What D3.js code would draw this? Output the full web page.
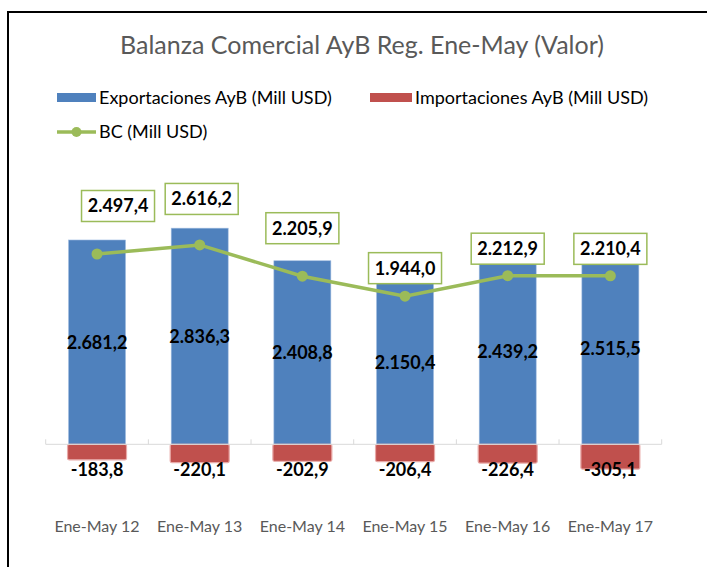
<!DOCTYPE html>
<html>
  <head>
    <meta charset="utf-8">
    <script src="https://d3js.org/d3.v7.min.js"></script>
    <style>
      body {
        margin: 0;
        background-color: white;
        font-family: Lato, sans-serif;
      }
    </style>
  </head>
  <body>
    <div id="chart"></div>
    <script>
      // data (Mill USD)
      var categories = ['Ene-May 12','Ene-May 13','Ene-May 14','Ene-May 15','Ene-May 16','Ene-May 17'];
      var exportaciones = [2681.2, 2836.3, 2408.8, 2150.4, 2439.2, 2515.5];
      var importaciones = [-183.8, -220.1, -202.9, -206.4, -226.4, -305.1];
      var bc = [2497.4, 2616.2, 2205.9, 1944.0, 2212.9, 2210.4];
      var seriesNames = ['Exportaciones AyB (Mill USD)', 'Importaciones AyB (Mill USD)', 'BC (Mill USD)'];

      // hand placed label boxes in the original, offset from the point
      var bcLabelShift = [[21,-48],[2,-46],[0,-48],[0,-28],[0,-27],[0,-27]];

      var W = 707, H = 567;
      var blue = '#4f81bd', red = '#c0504d', green = '#9bbb59';

      var fmt = function(v) {
        // 2681.2 -> 2.681,2
        var s = d3.format(',.1f')(v);
        return s.replace(/,/g, '#').replace('.', ',').replace(/#/g, '.').replace('−', '-');
      };

      var svg = d3.select('#chart').append('svg')
        .attr('width', W)
        .attr('height', H);

      // frame (only top and left edge are in the shot)
      svg.append('path')
        .attr('d', 'M8,' + H + 'V12H' + W)
        .attr('fill', 'none')
        .attr('stroke', '#000')
        .attr('stroke-width', 2);

      var x = d3.scaleBand()
        .domain(categories)
        .range([45.7, 661.7])
        .paddingInner(0.445)
        .paddingOuter(0.2225);

      var y = d3.scaleLinear()
        .domain([-500, 3000])
        .range([482.4, 215.7]);

      // title
      svg.append('text')
        .attr('x', 362)
        .attr('y', 54)
        .attr('text-anchor', 'middle')
        .attr('fill', '#595959')
        .style('font-size', '25px')
        .text('Balanza Comercial AyB Reg. Ene-May (Valor)');

      // legend
      var leg = svg.append('g').style('font-size', '18px');
      leg.append('rect').attr('x', 57).attr('y', 93).attr('width', 39).attr('height', 9).attr('fill', blue);
      leg.append('text').attr('x', 99).attr('y', 104).text(seriesNames[0]);
      leg.append('rect').attr('x', 370).attr('y', 93).attr('width', 42).attr('height', 9).attr('fill', red);
      leg.append('text').attr('x', 415).attr('y', 104).text(seriesNames[1]);
      leg.append('line').attr('x1', 57).attr('x2', 96).attr('y1', 132).attr('y2', 132)
        .attr('stroke', green).attr('stroke-width', 3.5);
      leg.append('circle').attr('cx', 76.5).attr('cy', 132).attr('r', 5).attr('fill', green);
      leg.append('text').attr('x', 99).attr('y', 138).text(seriesNames[2]);

      // export bars
      svg.selectAll('.exp')
        .data(exportaciones)
        .enter().append('rect')
        .attr('class', 'exp')
        .attr('x', function(d, i) { return x(categories[i]); })
        .attr('width', x.bandwidth())
        .attr('y', function(d) { return y(d); })
        .attr('height', function(d) { return y(0) - y(d); })
        .attr('fill', blue)
        .attr('stroke', '#9fbbe0')
        .attr('stroke-width', 0.6);

      // import bars
      svg.selectAll('.imp')
        .data(importaciones)
        .enter().append('rect')
        .attr('class', 'imp')
        .attr('x', function(d, i) { return x(categories[i]) - 1; })
        .attr('width', x.bandwidth() + 2)
        .attr('y', y(0))
        .attr('height', function(d) { return y(d) - y(0) + 1.5; })
        .attr('rx', 1.5)
        .attr('fill', red)
        .attr('stroke', '#e8a9a7')
        .attr('stroke-width', 1.2);

      // category axis
      var axisY = y(0);
      svg.append('line')
        .attr('x1', x.range()[0]).attr('x2', x.range()[1])
        .attr('y1', axisY).attr('y2', axisY)
        .attr('stroke', '#d9d9d9').attr('stroke-width', 1);
      d3.range(categories.length + 1).forEach(function(i) {
        var tx = x.range()[0] + i * x.step();
        svg.append('line')
          .attr('x1', tx).attr('x2', tx)
          .attr('y1', axisY - 5).attr('y2', axisY)
          .attr('stroke', '#d9d9d9').attr('stroke-width', 1);
      });
      svg.selectAll('.cat')
        .data(categories)
        .enter().append('text')
        .attr('class', 'cat')
        .attr('x', function(d) { return x(d) + x.bandwidth() / 2; })
        .attr('y', 532)
        .attr('text-anchor', 'middle')
        .attr('fill', '#595959')
        .style('font-size', '16px')
        .text(function(d) { return d; });

      // value labels
      svg.selectAll('.expLbl')
        .data(exportaciones)
        .enter().append('text')
        .attr('class', 'expLbl')
        .attr('x', function(d, i) { return x(categories[i]) + x.bandwidth() / 2; })
        .attr('y', function(d) { return (y(d) + y(0)) / 2; })
        .attr('dy', '0.36em')
        .attr('text-anchor', 'middle')
        .style('font-size', '18px')
        .style('font-weight', 'bold')
        .text(function(d) { return fmt(d); });

      svg.selectAll('.impLbl')
        .data(importaciones)
        .enter().append('text')
        .attr('class', 'impLbl')
        .attr('x', function(d, i) { return x(categories[i]) + x.bandwidth() / 2; })
        .attr('y', y(0) + 25)
        .attr('dy', '0.36em')
        .attr('text-anchor', 'middle')
        .style('font-size', '18px')
        .style('font-weight', 'bold')
        .text(function(d) { return fmt(d); });

      // BC line
      var cx = function(d, i) { return x(categories[i]) + x.bandwidth() / 2; };
      var line = d3.line()
        .x(cx)
        .y(function(d) { return y(d); });

      svg.append('path')
        .datum(bc)
        .attr('d', line)
        .attr('fill', 'none')
        .attr('stroke', green)
        .attr('stroke-width', 3.5);

      svg.selectAll('.pt')
        .data(bc)
        .enter().append('circle')
        .attr('class', 'pt')
        .attr('cx', cx)
        .attr('cy', function(d) { return y(d); })
        .attr('r', 5.5)
        .attr('fill', green);

      var lbl = svg.selectAll('.bcLbl')
        .data(bc)
        .enter().append('g')
        .attr('class', 'bcLbl')
        .attr('transform', function(d, i) {
          return 'translate(' + (cx(d, i) + bcLabelShift[i][0]) + ',' + (y(d) + bcLabelShift[i][1]) + ')';
        });
      lbl.append('rect')
        .attr('x', -36.5).attr('y', -15.5)
        .attr('width', 73).attr('height', 31)
        .attr('fill', 'white')
        .attr('stroke', green)
        .attr('stroke-width', 1.5);
      lbl.append('text')
        .attr('text-anchor', 'middle')
        .attr('dy', '0.36em')
        .style('font-size', '18px')
        .style('font-weight', 'bold')
        .text(function(d) { return fmt(d); });
    </script>
  </body>
</html>
